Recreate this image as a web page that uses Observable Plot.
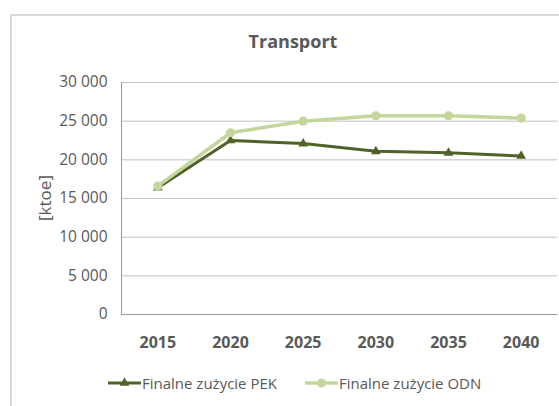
<!DOCTYPE html>
<html><head><meta charset="utf-8">
<script src="https://cdn.jsdelivr.net/npm/d3@7"></script>
<script src="https://cdn.jsdelivr.net/npm/@observablehq/plot@0.6"></script>
<style>
body{margin:0;background:#fff;font-family:"Open Sans",sans-serif;}
#wrap{position:relative;width:559px;height:406px;overflow:hidden;background:#fff;}
#frame{position:absolute;left:10px;top:14px;width:600px;height:460px;border:2px solid #d9d9d9;box-sizing:border-box;}
#title{position:absolute;left:10px;width:566px;top:29px;text-align:center;font-weight:bold;font-size:18px;color:#595959;line-height:normal;white-space:nowrap;}
#chart{position:absolute;left:0;top:60px;}
#ylabel{position:absolute;left:43.5px;top:198px;transform:translate(-50%,-50%) rotate(-90deg);font-size:17px;color:#595959;white-space:nowrap;}
.lg{position:absolute;top:373px;font-size:15px;color:#595959;white-space:nowrap;line-height:normal;}
.sw{position:absolute;top:375px;}
</style>
</head><body>
<div id="wrap">
  <div id="frame"></div>
  <div id="title">Transport</div>
  <div id="chart"></div>
  <div id="ylabel">[ktoe]</div>
  <div id="legend"></div>
</div>
<script>
const years = [2015, 2020, 2025, 2030, 2035, 2040];
const pek = [16400, 22500, 22100, 21100, 20900, 20500];
const odn = [16600, 23500, 25000, 25700, 25700, 25400];
const yTicks = [0, 5000, 10000, 15000, 20000, 25000, 30000];
const seriesNames = ["Finalne zużycie PEK", "Finalne zużycie ODN"];
const colors = ["#4f6228", "#c3d69b"];

const pekData = years.map((y, i) => ({year: y, value: pek[i]}));
const odnData = years.map((y, i) => ({year: y, value: odn[i]}));
const fmt = d => d3.format(",")(d).replace(/,/g, " ");

const chart = Plot.plot({
  width: 559,
  height: 300,
  marginLeft: 121,
  marginRight: 2,
  marginTop: 22,
  marginBottom: 46,
  style: {fontFamily: '"Open Sans", sans-serif', color: "#595959", background: "transparent"},
  x: {type: "linear", domain: [2012.5, 2042.5]},
  y: {domain: [0, 30000]},
  marks: [
    Plot.ruleY(yTicks.filter(d => d !== 0), {stroke: "#c0c0c0", strokeWidth: 1}),
    Plot.ruleY([0], {stroke: "#999999", strokeWidth: 1}),
    Plot.ruleX([2012.5], {y1: 0, y2: 30000, stroke: "#999999", strokeWidth: 1}),
    Plot.axisY({ticks: yTicks, tickSize: 0, tickPadding: 14, tickFormat: fmt, fontSize: 15.5, label: null}),
    Plot.axisX({ticks: years, tickSize: 0, tickPadding: 22, tickFormat: d => String(d), fontSize: 16, fontWeight: "bold", label: null}),
    Plot.line(pekData, {x: "year", y: "value", stroke: colors[0], strokeWidth: 3, strokeLinejoin: "round"}),
    Plot.dot(pekData, {x: "year", y: "value", symbol: "triangle", r: 3.6, fill: colors[0], stroke: "none"}),
    Plot.line(odnData, {x: "year", y: "value", stroke: colors[1], strokeWidth: 3.5, strokeLinejoin: "round"}),
    Plot.dot(odnData, {x: "year", y: "value", symbol: "circle", r: 4.6, fill: colors[1], stroke: "none"})
  ]
});
document.getElementById("chart").appendChild(chart);

// legend
const legend = document.getElementById("legend");
const items = [
  {name: seriesNames[0], color: colors[0], sym: "triangle", sx: 108, tx: 142, r: 3.6, w: 3},
  {name: seriesNames[1], color: colors[1], sym: "circle", sx: 305, tx: 339, r: 4.6, w: 3.5}
];
items.forEach(it => {
  const ns = "http://www.w3.org/2000/svg";
  const svg = document.createElementNS(ns, "svg");
  svg.setAttribute("width", 34); svg.setAttribute("height", 16);
  svg.setAttribute("class", "sw");
  svg.style.left = it.sx + "px";
  const ln = document.createElementNS(ns, "line");
  ln.setAttribute("x1", 0); ln.setAttribute("x2", 33); ln.setAttribute("y1", 8); ln.setAttribute("y2", 8);
  ln.setAttribute("stroke", it.color); ln.setAttribute("stroke-width", it.w);
  svg.appendChild(ln);
  const p = document.createElementNS(ns, "path");
  const sym = it.sym === "triangle" ? d3.symbolTriangle : d3.symbolCircle;
  p.setAttribute("d", d3.symbol(sym, Math.PI * it.r * it.r)());
  p.setAttribute("transform", "translate(16.5,8)");
  p.setAttribute("fill", it.color);
  svg.appendChild(p);
  legend.appendChild(svg);
  const t = document.createElement("div");
  t.className = "lg"; t.style.left = it.tx + "px"; t.textContent = it.name;
  legend.appendChild(t);
});
</script>
</body></html>
